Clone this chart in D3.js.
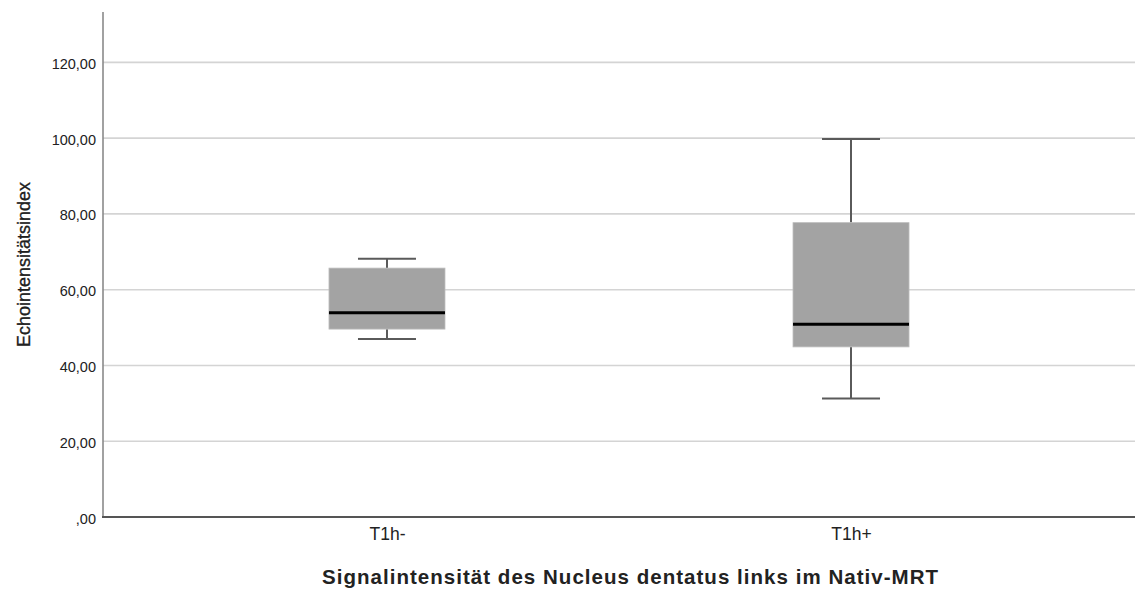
<!DOCTYPE html>
<html>
<head>
<meta charset="utf-8">
<script src="https://cdn.jsdelivr.net/npm/d3@7"></script>
<style>
  html, body { margin: 0; padding: 0; background: #fff; }
  svg { display: block; }
  text { font-family: "Liberation Sans", Arial, sans-serif; fill: #222; }
</style>
</head>
<body>
<svg id="chart" width="1136" height="590"></svg>
<script>
// ---- data ----
const categories = ["T1h-", "T1h+"];
const whiskerLow = [47.0, 31.3];
const q1 = [49.6, 44.9];
const medians = [53.9, 50.9];
const q3 = [65.7, 77.7];
const whiskerHigh = [68.2, 99.8];
const yTicks = [0, 20, 40, 60, 80, 100, 120];
const yTitle = "Echointensitätsindex";
const xTitle = "Signalintensität des Nucleus dentatus links im Nativ-MRT";

// ---- layout ----
const plotL = 103, plotR = 1135, plotT = 12, plotB = 517;
const svg = d3.select("#chart");

const y = d3.scaleLinear().domain([0, 133.3]).range([plotB, plotT]);
const x = d3.scalePoint().domain(categories).range([plotL, plotR]).padding(0.612);
const boxW = 116, capW = 58;
const fmt = v => (v === 0 ? ",00" : d3.format(".2f")(v).replace(".", ","));

// gridlines
svg.append("g").selectAll("line").data(yTicks.filter(d => d > 0)).join("line")
  .attr("x1", plotL).attr("x2", plotR)
  .attr("y1", d => y(d)).attr("y2", d => y(d))
  .attr("stroke", "#d4d4d4").attr("stroke-width", 1.6);

// y axis
const yAxis = d3.axisLeft(y).tickValues(yTicks).tickFormat(fmt).tickSize(0).tickPadding(7);
const gy = svg.append("g").attr("transform", `translate(${plotL},0)`).call(yAxis);
gy.select(".domain").remove();
gy.selectAll("text").attr("font-size", "14.5px").attr("fill", "#222")
  .attr("font-family", "Liberation Sans, Arial, sans-serif").attr("dy", "0.62em").attr("y", -3);
svg.append("line").attr("x1", plotL).attr("x2", plotL).attr("y1", plotT).attr("y2", plotB)
  .attr("stroke", "#8a8a8a").attr("stroke-width", 1.6);

// x axis baseline
const xAxis = d3.axisBottom(x).tickSize(0).tickPadding(11);
const gx = svg.append("g").attr("transform", `translate(0,${plotB})`).call(xAxis);
gx.select(".domain").remove();
gx.selectAll("text").attr("font-size", "17.5px").attr("fill", "#222")
  .attr("font-family", "Liberation Sans, Arial, sans-serif");
svg.append("line").attr("x1", plotL - 1).attr("x2", plotR).attr("y1", plotB).attr("y2", plotB)
  .attr("stroke", "#555").attr("stroke-width", 2);

// boxes
const data = categories.map((c, i) => ({ c, lo: whiskerLow[i], q1: q1[i], med: medians[i], q3: q3[i], hi: whiskerHigh[i] }));
const g = svg.append("g").selectAll("g").data(data).join("g");

g.append("line").attr("x1", d => x(d.c)).attr("x2", d => x(d.c))
  .attr("y1", d => y(d.hi)).attr("y2", d => y(d.q3)).attr("stroke", "#5a5a5a").attr("stroke-width", 2);
g.append("line").attr("x1", d => x(d.c)).attr("x2", d => x(d.c))
  .attr("y1", d => y(d.q1)).attr("y2", d => y(d.lo)).attr("stroke", "#5a5a5a").attr("stroke-width", 2);
g.append("line").attr("x1", d => x(d.c) - capW / 2).attr("x2", d => x(d.c) + capW / 2)
  .attr("y1", d => y(d.hi)).attr("y2", d => y(d.hi)).attr("stroke", "#5a5a5a").attr("stroke-width", 2);
g.append("line").attr("x1", d => x(d.c) - capW / 2).attr("x2", d => x(d.c) + capW / 2)
  .attr("y1", d => y(d.lo)).attr("y2", d => y(d.lo)).attr("stroke", "#5a5a5a").attr("stroke-width", 2);
g.append("rect").attr("x", d => x(d.c) - boxW / 2).attr("width", boxW)
  .attr("y", d => y(d.q3)).attr("height", d => y(d.q1) - y(d.q3))
  .attr("fill", "#a3a3a3").attr("stroke", "#bdbdbd").attr("stroke-width", 0.8);
g.append("line").attr("x1", d => x(d.c) - boxW / 2).attr("x2", d => x(d.c) + boxW / 2)
  .attr("y1", d => y(d.med)).attr("y2", d => y(d.med)).attr("stroke", "#000").attr("stroke-width", 3);

// titles
svg.append("text").attr("transform", `translate(30,${(plotT + plotB) / 2}) rotate(-90)`)
  .attr("text-anchor", "middle").attr("font-size", "18px").attr("fill", "#111")
  .attr("stroke", "#111").attr("stroke-width", 0.3).text(yTitle);
svg.append("text").attr("x", 630).attr("y", 584).attr("text-anchor", "middle")
  .attr("font-size", "20.5px").attr("font-weight", "bold").attr("fill", "#111")
  .attr("textLength", 616).attr("lengthAdjust", "spacing").text(xTitle);
</script>
</body>
</html>
